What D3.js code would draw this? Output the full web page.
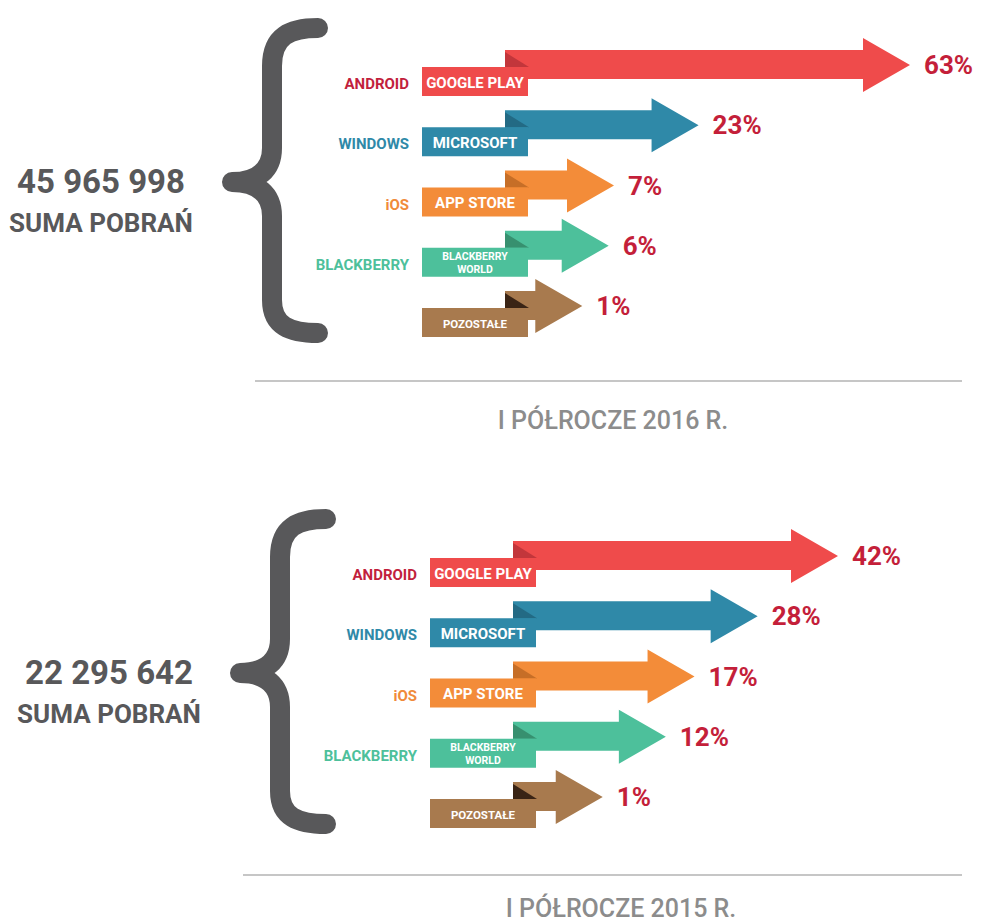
<!DOCTYPE html>
<html>
<head>
<meta charset="utf-8">
<script src="https://cdn.jsdelivr.net/npm/d3@7"></script>
<style>
  html, body { margin: 0; padding: 0; background: #ffffff; }
  svg { display: block; font-family: Roboto, "Open Sans", sans-serif; }
</style>
</head>
<body>
<script>
// ---------- data ----------
const stores    = ["GOOGLE PLAY", "MICROSOFT", "APP STORE", "BLACKBERRY WORLD", "POZOSTAŁE"];
const platforms = ["ANDROID", "WINDOWS", "iOS", "BLACKBERRY", ""];
const share2016 = [63, 23, 7, 6, 1];
const share2015 = [42, 28, 17, 12, 1];
const totals    = ["45 965 998", "22 295 642"];
const totalCaption = "SUMA POBRAŃ";
const periods   = ["I PÓŁROCZE 2016 R.", "I PÓŁROCZE 2015 R."];

// ---------- styles ----------
const mainColors  = ["#ef4b4b", "#2f89a8", "#f38c39", "#4dc09b", "#a87a4e"];
const foldColors  = ["#c2363b", "#236a84", "#c66e27", "#37906f", "#3a2415"];
const labelColors = ["#c21f3d", "#2f89a8", "#f08a3a", "#4dc09b", "#a87a4e"];
const pctColor = "#c41f3a";
const grey = "#58585a";

const W = 985, H = 922;
const svg = d3.select("body").append("svg").attr("width", W).attr("height", H);

const panels = [
  { share: share2016, total: totals[0], period: periods[0], dx: 0, dy: 0,   lenRange: [72, 405], line: [255, 962, 381], titleY: 420 },
  { share: share2015, total: totals[1], period: periods[1], dx: 8, dy: 491, lenRange: [84, 325], line: [235, 954, 384], titleY: 417 }
];

const x0 = 505;          // shaft start (local)
const headLen = 47, headHalf = 27;

panels.forEach(p => {
  const g = svg.append("g").attr("transform", `translate(${p.dx},${p.dy})`);

  const y = d3.scalePoint().domain(d3.range(stores.length)).range([65, 306]);
  const len = d3.scaleLinear().domain([0, d3.max(p.share)]).range(p.lenRange);

  // brace
  g.append("path")
    .attr("d", "M318,28 C290,28 272,36 272,66 L272,148 C272,170 258,182 232,182 C258,182 272,194 272,216 L272,300 C272,326 290,333 318,333")
    .attr("fill", "none").attr("stroke", grey).attr("stroke-width", 20)
    .attr("stroke-linecap", "round").attr("stroke-linejoin", "round");

  // total text
  g.append("text").attr("x", 101).attr("y", 193).attr("text-anchor", "middle")
    .attr("font-size", 33).attr("font-weight", 700).attr("fill", grey).text(p.total);
  g.append("text").attr("x", 101).attr("y", 232).attr("text-anchor", "middle")
    .attr("font-size", 26).attr("font-weight", 700).attr("fill", grey).text(totalCaption);

  const rows = g.selectAll("g.row").data(p.share).join("g").attr("class", "row");

  rows.each(function (v, i) {
    const r = d3.select(this);
    const c = y(i);
    const tip = x0 + len(v);
    const hb = tip - headLen;
    // arrow
    r.append("path")
      .attr("d", `M${x0},${c - 15} L${hb},${c - 15} L${hb},${c - headHalf} L${tip},${c} L${hb},${c + headHalf} L${hb},${c + 14} L${x0},${c + 14} Z`)
      .attr("fill", mainColors[i]);
    // fold
    r.append("path")
      .attr("d", `M${x0},${c - 13} L${x0 + 24},${c + 2} L${x0},${c + 2} Z`)
      .attr("fill", foldColors[i]);
    // box
    r.append("rect").attr("x", x0 - 83).attr("y", c + 2).attr("width", 106).attr("height", 29)
      .attr("fill", mainColors[i]);
    // box text
    const words = stores[i].split(" ");
    const twoLine = stores[i].length > 12;
    const fs = i < 3 ? 15 : 11.5;
    if (twoLine) {
      [words[0], words.slice(1).join(" ")].forEach((w, k) => {
        r.append("text").attr("x", x0 - 30).attr("y", c + 14.5 + k * 12.5).attr("text-anchor", "middle")
          .attr("font-size", 10.5).attr("font-weight", 700).attr("fill", "#ffffff").text(w);
      });
    } else {
      r.append("text").attr("x", x0 - 30).attr("text-anchor", "middle")
        .attr("font-size", fs).attr("font-weight", 700).attr("fill", "#ffffff")
        .attr("y", c + 17.5).attr("dominant-baseline", "central").text(stores[i]);
    }
    // platform label
    if (platforms[i]) {
      r.append("text").attr("x", x0 - 96).attr("y", c + 19).attr("text-anchor", "end")
        .attr("dominant-baseline", "central").attr("font-size", 15).attr("font-weight", 700)
        .attr("fill", labelColors[i]).text(platforms[i]);
    }
    // percent
    r.append("text").attr("x", tip + 14).attr("y", c).attr("dominant-baseline", "central")
      .attr("font-size", 26).attr("font-weight", 700).attr("fill", pctColor).text(v + "%");
  });

  // separator and period
  g.append("line").attr("x1", p.line[0]).attr("x2", p.line[1]).attr("y1", p.line[2]).attr("y2", p.line[2])
    .attr("stroke", "#c6c6c6").attr("stroke-width", 2);
  g.append("text").attr("x", 613).attr("y", p.titleY).attr("text-anchor", "middle").attr("dominant-baseline", "central")
    .attr("font-size", 25).attr("font-weight", 500).attr("fill", "#8c8c8c").text(p.period);
});
</script>
</body>
</html>
